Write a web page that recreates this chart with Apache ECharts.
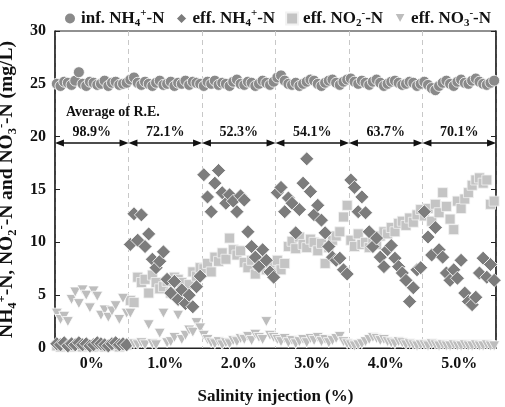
<!DOCTYPE html>
<html>
<head>
<meta charset="utf-8">
<script src="https://cdn.jsdelivr.net/npm/echarts@6/dist/echarts.min.js"></script>
<style>
  html, body { margin: 0; padding: 0; background: #fff; }
  #main { width: 505px; height: 407px; }
</style>
</head>
<body>
<div id="main"></div>
<script>
// salinity stages, 20 sampling days each
const stages = ['0%', '1.0%', '2.0%', '3.0%', '4.0%', '5.0%'];
const removal = ['98.9%', '72.1%', '52.3%', '54.1%', '63.7%', '70.1%'];
const daysPerStage = 20;

const infNH4 = [
  25.0, 24.8, 25.2, 25.1, 24.9, 25.3, 26.1, 25.0, 24.8, 25.2, 25.1, 24.9, 25.0, 25.3, 24.8, 25.1, 25.2, 24.9, 25.0, 25.1,
  25.4, 25.6, 25.1, 24.9, 25.2, 25.0, 24.8, 25.1, 25.3, 24.9, 25.0, 25.2, 24.8, 25.1, 25.0, 25.3, 24.9, 25.2, 25.1, 25.0,
  24.8, 25.2, 25.0, 25.3, 24.9, 25.1, 25.0, 24.8, 25.2, 25.4, 25.0, 24.9, 25.2, 25.1, 24.8, 25.0, 25.3, 25.1, 24.9, 25.2,
  25.6, 25.8, 25.3, 25.0, 24.9, 25.1, 24.8, 25.0, 25.2, 25.4, 25.3, 25.0, 24.8, 25.1, 25.3, 25.4, 25.1, 24.9, 25.2, 25.4,
  25.5, 25.2, 25.0, 25.3, 25.1, 24.9, 25.2, 25.4, 25.1, 24.8, 25.0, 25.2, 25.3, 25.1, 24.9, 25.0, 25.2, 25.1, 24.8, 25.0,
  25.2, 24.9, 24.6, 24.4, 24.8, 25.1, 25.3, 25.0, 24.8, 25.2, 25.4, 25.1, 25.0, 25.3, 25.5, 25.2, 25.0, 24.9, 25.1, 25.3
];
const effNH4 = [
  0.4, 0.3, 0.5, 0.2, 0.4, 0.3, 0.5, 0.3, 0.4, 0.2, 0.3, 0.5, 0.4, 0.3, 0.2, 0.4, 0.5, 0.3, 0.4, 0.3,
  9.8, 12.7, 10.2, 12.6, 9.6, 10.8, 8.4, 7.6, 8.2, 9.1, 6.5, 5.2, 6.3, 4.6, 5.5, 4.2, 5.0, 3.9, 5.8, 6.8,
  16.4, 14.3, 12.9, 15.6, 16.8, 14.7, 13.7, 14.5, 13.9, 12.9, 14.4, 14.0, 11.0, 9.6, 8.6, 7.7, 9.3, 8.3, 7.2, 6.7,
  14.7, 15.2, 12.9, 14.2, 13.7, 10.9, 13.1, 15.6, 17.9, 14.8, 12.6, 13.5, 12.1, 10.9, 9.6, 8.6, 8.3, 8.5, 7.4, 7.0,
  15.9, 15.2, 12.9, 14.3, 12.8, 11.0, 9.6, 10.4, 8.6, 7.7, 9.3, 9.7, 8.5, 7.7, 7.1, 6.4, 4.4, 5.7, 7.4, 7.6,
  12.9, 10.5, 8.8, 11.4, 9.3, 8.6, 7.1, 6.4, 7.4, 6.6, 8.3, 5.2, 4.4, 4.1, 4.8, 7.1, 8.5, 6.7, 7.9, 6.4
];
const effNO2 = [
  0.2, 0.1, 0.3, 0.2, 0.1, 0.2, 0.3, 0.1, 0.2, 0.2, 0.1, 0.3, 0.2, 0.1, 0.2, 0.3, 0.2, 0.1, 0.2, 0.3,
  4.5, 4.3, 6.7, 6.2, 6.5, 5.2, 6.9, 6.2, 5.6, 5.8, 6.3, 5.2, 6.7, 6.5, 6.2, 5.5, 6.0, 7.2, 6.8, 7.6,
  7.5, 8.0, 7.2, 8.6, 8.2, 9.0, 8.4, 10.4, 9.3, 8.8, 9.2, 8.1, 7.6, 8.3, 7.0, 7.8, 8.4, 7.4, 8.0, 7.1,
  8.3, 7.4, 8.0, 9.6, 10.1, 9.4, 10.5, 9.8, 9.5, 10.3, 10.0, 9.2, 9.9, 8.0, 9.5, 10.2, 10.6, 11.0, 12.4, 13.5,
  10.2, 9.6, 10.8, 9.8, 10.0, 9.5, 10.3, 9.8, 10.6, 11.0, 10.8, 11.4, 11.0, 11.8, 12.0, 11.6, 12.3, 11.9, 12.6, 13.1,
  12.5, 13.2, 12.0, 13.6, 12.8, 14.7, 13.4, 12.2, 11.2, 13.9, 13.2, 14.1, 14.7, 15.4, 15.9, 16.1, 15.6, 15.9, 13.6, 13.9
];
const effNO3 = [
  3.3, 2.7, 3.0, 2.5, 4.6, 5.3, 4.2, 5.5, 5.0, 3.8, 5.4, 4.9, 3.1, 3.6, 2.9, 3.5, 4.0, 2.7, 4.7, 3.3,
  3.3, 0.4, 0.3, 0.5, 0.3, 2.2, 0.4, 0.3, 1.4, 3.3, 0.5, 0.6, 1.0, 3.1, 0.8, 1.2, 1.7, 1.5, 2.4, 1.9,
  1.2, 0.8, 0.5, 0.4, 0.6, 0.3, 0.5, 0.4, 0.7, 0.6, 0.9, 0.8, 1.1, 0.7, 1.3, 1.0, 0.8, 2.5, 1.2, 1.0,
  0.8, 0.6, 0.9, 0.5, 0.7, 0.4, 0.6, 0.8, 0.5, 0.9, 0.7, 1.0, 0.6, 0.8, 0.5, 0.7, 0.9, 1.1, 0.6, 0.4,
  0.3, 0.2, 0.3, 0.4, 0.6, 0.8, 1.0, 0.9, 0.7, 0.8, 0.6, 0.5, 0.4, 0.6, 0.5, 0.3, 0.4, 0.3, 0.2, 0.3,
  0.3, 0.2, 0.4, 0.3, 0.2, 0.3, 0.2, 0.2, 0.3, 0.2, 0.2, 0.3, 0.2, 0.2, 0.3, 0.2, 0.2, 0.3, 0.2, 0.2
];
const arrowLevel = 19.4;

const serif = 'Liberation Serif';
const totalDays = stages.length * daysPerStage;
const toPoints = vals => vals.map((v, i) => [i + 0.5, v]);
const triDown = 'path://M0,0 L10,0 L5,9 Z';

function richText(size, subSize) {
  return {
    n: { fontFamily: serif, fontWeight: 'bold', fontSize: size, color: '#111', lineHeight: size + 4 },
    sub: { fontFamily: serif, fontWeight: 'bold', fontSize: subSize, color: '#111', lineHeight: subSize, verticalAlign: 'bottom' },
    sup: { fontFamily: serif, fontWeight: 'bold', fontSize: subSize, color: '#111', lineHeight: subSize, verticalAlign: 'top' }
  };
}
const legendNames = {
  'inf. NH4': '{n|inf. NH}{sub|4}{sup|+}{n|-N}',
  'eff. NH4': '{n|eff. NH}{sub|4}{sup|+}{n|-N}',
  'eff. NO2': '{n|eff. NO}{sub|2}{sup|-}{n|-N}',
  'eff. NO3': '{n|eff. NO}{sub|3}{sup|-}{n|-N}'
};

let arrows = stages.map((s, k) => [
  { name: removal[k], coord: [k * daysPerStage + 1.2, arrowLevel] },
  { coord: [(k + 1) * daysPerStage - 1.2, arrowLevel] }
]);

let chart = echarts.init(document.getElementById('main'));
let options = {
  backgroundColor: '#fff',
  animation: false,
  textStyle: { fontFamily: serif },
  legend: {
    top: 3,
    left: 58,
    itemWidth: 12,
    itemHeight: 12,
    itemGap: 10,
    formatter: name => legendNames[name],
    textStyle: { rich: richText(17, 11) }
  },
  grid: {
    left: 55, right: 9, top: 31, bottom: 59,
    containLabel: false, outerBoundsMode: 'none',
    show: true, borderColor: '#222', borderWidth: 1
  },
  xAxis: [{
    type: 'value',
    min: 0,
    max: totalDays,
    interval: daysPerStage,
    axisLine: { show: true, lineStyle: { color: '#222', width: 1 } },
    axisTick: { show: false },
    axisLabel: { show: false },
    splitLine: { show: true, lineStyle: { color: '#c8c8c8', type: [5, 4], width: 1 } }
  }, {
    type: 'category',
    position: 'bottom',
    data: stages,
    boundaryGap: true,
    axisLine: { show: false },
    axisTick: { show: false },
    axisLabel: { margin: 8, fontFamily: serif, fontWeight: 'bold', fontSize: 16, color: '#111' },
    name: 'Salinity injection (%)',
    nameLocation: 'middle',
    nameGap: 40,
    nameTextStyle: { fontFamily: serif, fontWeight: 'bold', fontSize: 17, color: '#111' }
  }],
  yAxis: [{
    type: 'value',
    min: 0,
    max: 30,
    interval: 5,
    axisLine: { show: true, lineStyle: { color: '#222', width: 1.5 } },
    axisTick: { show: true, inside: true, length: 5, lineStyle: { color: '#222' } },
    axisLabel: { margin: 9, fontFamily: serif, fontWeight: 'bold', fontSize: 16, color: '#111' },
    splitLine: { show: false },
    name: '{n|NH}{sub|4}{sup|+}{n|-N, NO}{sub|2}{sup|-}{n|-N and NO}{sub|3}{sup|-}{n|-N (mg/L)}',
    nameLocation: 'middle',
    nameGap: 30,
    nameTextStyle: { rich: richText(19.5, 12.5) }
  }, {
    type: 'value',
    position: 'right',
    min: 0,
    max: 30,
    interval: 5,
    axisLine: { show: true, lineStyle: { color: '#222', width: 1.5 } },
    axisTick: { show: true, inside: true, length: 5, lineStyle: { color: '#222' } },
    axisLabel: { show: false },
    splitLine: { show: false }
  }],
  series: [{
    name: 'inf. NH4',
    type: 'scatter',
    symbol: 'circle',
    symbolSize: 11,
    itemStyle: { color: '#8a8a8a', borderColor: '#fff', borderWidth: 0.8, opacity: 1 },
    data: toPoints(infNH4),
    z: 3
  }, {
    name: 'eff. NO2',
    type: 'scatter',
    symbol: 'rect',
    symbolSize: 10,
    itemStyle: { color: '#c4c4c4', borderColor: '#f2f2f2', borderWidth: 0.8, opacity: 1 },
    data: toPoints(effNO2),
    z: 2
  }, {
    name: 'eff. NH4',
    type: 'scatter',
    symbol: 'diamond',
    symbolSize: 14,
    itemStyle: { color: '#7c7c7c', borderColor: '#fff', borderWidth: 0.8, opacity: 1 },
    data: toPoints(effNH4),
    z: 4
  }, {
    name: 'eff. NO3',
    type: 'scatter',
    symbol: triDown,
    symbolSize: [11, 10],
    itemStyle: { color: '#bdbdbd', borderColor: '#fff', borderWidth: 0.8, opacity: 1 },
    data: toPoints(effNO3),
    z: 5,
    markLine: {
      silent: true,
      symbol: ['triangle', 'triangle'],
      symbolSize: [7, 9],
      lineStyle: { color: '#111', width: 1.6, type: 'solid' },
      label: {
        show: true,
        position: 'middle',
        distance: 4,
        formatter: '{b}',
        fontFamily: serif,
        fontWeight: 'bold',
        fontSize: 14,
        color: '#111'
      },
      data: arrows
    },
    markPoint: {
      silent: true,
      symbol: 'circle',
      symbolSize: 0,
      label: {
        show: true,
        position: 'right',
        distance: 0,
        formatter: 'Average of R.E.',
        fontFamily: serif,
        fontWeight: 'bold',
        fontSize: 14,
        color: '#111'
      },
      data: [{ coord: [3, 22.3] }]
    }
  }]
};
options.legend.data = ['inf. NH4', 'eff. NH4', 'eff. NO2', 'eff. NO3'];
chart.setOption(options);
</script>
</body>
</html>
